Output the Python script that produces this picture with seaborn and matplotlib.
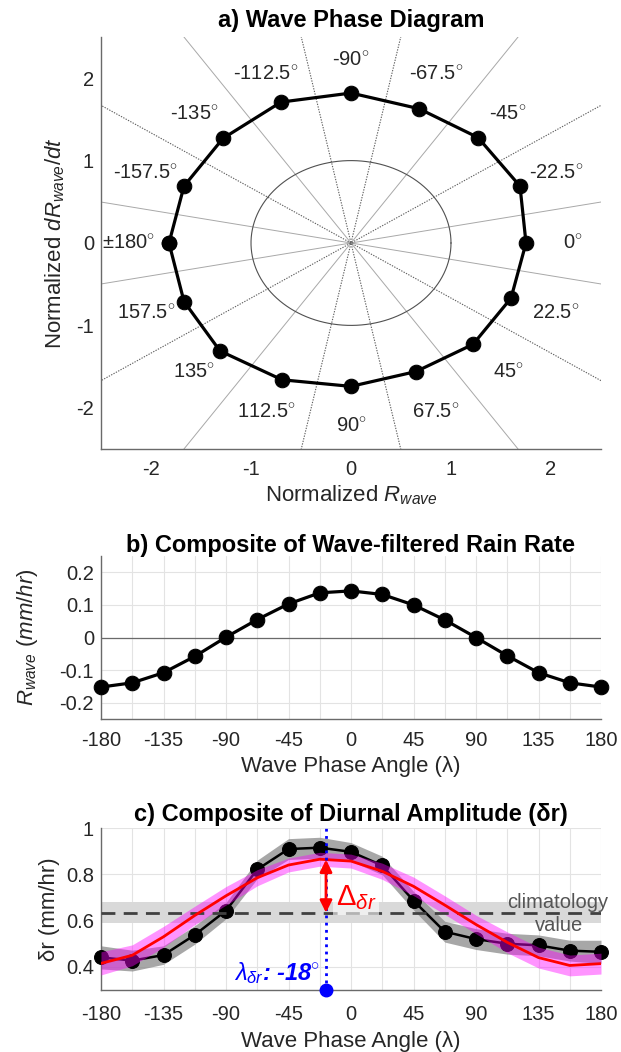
import numpy as np
import pandas as pd
import matplotlib
matplotlib.use("Agg")
import matplotlib.pyplot as plt
import seaborn as sns

# ---------------- data ----------------
phase = [-180, -157.5, -135, -112.5, -90, -67.5, -45, -22.5, 0,
         22.5, 45, 67.5, 90, 112.5, 135, 157.5, 180]

# panel a: normalized R_wave and dR_wave/dt
norm_r = [-1.82, -1.67, -1.28, -0.70, 0.0, 0.68, 1.27, 1.69, 1.75,
          1.60, 1.22, 0.65, 0.0, -0.69, -1.31, -1.67, -1.82]
norm_drdt = [0.0, 0.69, 1.27, 1.71, 1.82, 1.63, 1.28, 0.69, 0.0,
             -0.67, -1.23, -1.56, -1.74, -1.66, -1.31, -0.71, 0.0]

phase_labels = ["0", "-22.5", "-45", "-67.5", "-90", "-112.5", "-135", "-157.5",
                "\u00b1180", "157.5", "135", "112.5", "90", "67.5", "45", "22.5"]
phase_label_angles = [0, -22.5, -45, -67.5, -90, -112.5, -135, -157.5,
                      180, 157.5, 135, 112.5, 90, 67.5, 45, 22.5]
solid_div_angles = [11.25, 56.25, 123.75, 168.75]
dotted_div_angles = [33.75, 78.75, 101.25, 146.25]

# panel b: composite wave-filtered rain rate (mm/hr)
r_wave = [-0.152, -0.139, -0.108, -0.058, 0.001, 0.055, 0.103, 0.137, 0.143,
          0.132, 0.100, 0.054, 0.0, -0.056, -0.108, -0.139, -0.152]

# panel c: diurnal amplitude (mm/hr)
dr_obs = [0.441, 0.427, 0.451, 0.538, 0.643, 0.821, 0.909, 0.915, 0.897,
          0.838, 0.686, 0.552, 0.520, 0.500, 0.493, 0.470, 0.465]
dr_obs_spread = [0.05, 0.045, 0.04, 0.04, 0.035, 0.04, 0.045, 0.045, 0.04,
                 0.04, 0.04, 0.045, 0.045, 0.045, 0.045, 0.045, 0.05]
dr_fit = [0.415, 0.450, 0.530, 0.622, 0.707, 0.785, 0.840, 0.865, 0.857,
          0.813, 0.748, 0.667, 0.583, 0.506, 0.440, 0.406, 0.414]
dr_fit_spread = [0.05, 0.045, 0.045, 0.04, 0.04, 0.035, 0.03, 0.03, 0.03,
                 0.035, 0.04, 0.04, 0.04, 0.045, 0.045, 0.045, 0.045]
clim_value = 0.634
clim_low, clim_high = 0.588, 0.680
lambda_dr = -18

# ---------------- style ----------------
sns.set_theme(style="white")
plt.rcParams["font.family"] = ["Liberation Sans", "DejaVu Sans"]
plt.rcParams["mathtext.fontset"] = "custom"
plt.rcParams["mathtext.rm"] = "Liberation Sans"
plt.rcParams["mathtext.it"] = "Liberation Sans:italic"
plt.rcParams["mathtext.bf"] = "Liberation Sans:bold"
plt.rcParams["axes.unicode_minus"] = False
plt.rcParams["xtick.direction"] = "in"
plt.rcParams["ytick.direction"] = "in"

TXT = "#262626"
SPINE = "#6a6a6a"
GRID = "#e3e3e3"
TICK_FS = 14.5
LAB_FS = 16
TITLE_FS = 17

W, H = 621, 1052
fig = plt.figure(figsize=(W / 100, H / 100), dpi=100)
L, Wd = 101 / W, 500 / W
ax_a = fig.add_axes([L, 1 - 449 / H, Wd, 412 / H])
ax_b = fig.add_axes([L, 1 - 719 / H, Wd, 163 / H])
ax_c = fig.add_axes([L, 1 - 990 / H, Wd, 162 / H])


def style_axes(ax, xpad=8):
    for s in ["top", "right"]:
        ax.spines[s].set_visible(False)
    for s in ["left", "bottom"]:
        ax.spines[s].set_color(SPINE)
        ax.spines[s].set_linewidth(1.0)
    ax.tick_params(axis="both", which="both", direction="in", length=5,
                   width=0.9, color=SPINE, labelsize=TICK_FS, labelcolor=TXT,
                   pad=5)
    ax.tick_params(axis="x", which="both", pad=xpad)


# ---------------- panel a ----------------
ax = ax_a
style_axes(ax)
big = 10
for ang in solid_div_angles:
    t = np.deg2rad(ang)
    ax.plot([-big * np.cos(t), big * np.cos(t)], [-big * np.sin(t), big * np.sin(t)],
            color="#a8a8a8", lw=0.7, ls="-", zorder=1)
for ang in dotted_div_angles:
    t = np.deg2rad(ang)
    ax.plot([-big * np.cos(t), big * np.cos(t)], [-big * np.sin(t), big * np.sin(t)],
            color="#606060", lw=0.8, ls=(0, (1.2, 1.2)), zorder=1)
th = np.linspace(0, 2 * np.pi, 400)
ax.plot(np.cos(th), np.sin(th), color="#505050", lw=0.8, zorder=1)

df_a = pd.DataFrame({"x": norm_r, "y": norm_drdt})
sns.lineplot(data=df_a, x="x", y="y", sort=False, estimator=None, errorbar=None,
             ax=ax, color="black", lw=2.3, marker="o", markersize=10.5,
             mec="black", mfc="black", zorder=3)

lab_r = 2.22
for lab, ang in zip(phase_labels, phase_label_angles):
    t = np.deg2rad(ang)
    ax.text(lab_r * np.cos(t), -lab_r * np.sin(t), lab + r"$^{\circ}$",
            ha="center", va="center", fontsize=14.5, color=TXT, zorder=4)

ax.set_xlim(-2.5, 2.5)
ax.set_ylim(-2.5, 2.5)
ax.set_xticks([-2, -1, 0, 1, 2])
ax.set_yticks([-2, -1, 0, 1, 2])
ax.set_xlabel(r"Normalized $R_{wave}$", fontsize=LAB_FS, color=TXT, labelpad=3)
ax.set_ylabel(r"Normalized $dR_{wave}/dt$", fontsize=LAB_FS, color=TXT)
ax.yaxis.set_label_coords(-0.068, 0.5)
ax.set_title("a) Wave Phase Diagram", fontsize=TITLE_FS, fontweight="bold",
             color="black", pad=7)

# ---------------- panel b ----------------
ax = ax_b
style_axes(ax, xpad=9)
ax.set_xlim(-180, 180)
ax.set_ylim(-0.25, 0.25)
ax.set_xticks(np.arange(-180, 181, 22.5), minor=True)
ax.set_xticks(np.arange(-180, 181, 45))
ax.set_yticks([-0.2, -0.1, 0, 0.1, 0.2])
ax.set_yticklabels(["-0.2", "-0.1", "0", "0.1", "0.2"])
ax.set_xticklabels([str(v) for v in range(-180, 181, 45)])
ax.grid(True, which="both", color=GRID, lw=0.8, zorder=0)
ax.set_axisbelow(True)
ax.axhline(0, color="#6a6a6a", lw=0.9, zorder=1)
df_b = pd.DataFrame({"phase": phase, "r": r_wave})
sns.lineplot(data=df_b, x="phase", y="r", estimator=None, errorbar=None, ax=ax,
             color="black", lw=2.3, marker="o", markersize=10.5, mec="black",
             mfc="black", zorder=3, clip_on=False)
ax.set_xlabel("Wave Phase Angle (\u03bb)", fontsize=LAB_FS, color=TXT, labelpad=4)
ax.set_ylabel(r"$R_{wave}$ $\mathit{(mm/hr)}$", fontsize=LAB_FS, color=TXT)
ax.yaxis.set_label_coords(-0.122, 0.5)
ax.set_title("b) Composite of Wave-filtered Rain Rate", fontsize=TITLE_FS,
             fontweight="bold", color="black", pad=3)

# ---------------- panel c ----------------
ax = ax_c
style_axes(ax, xpad=11)
ax.set_xlim(-180, 180)
ax.set_ylim(0.3, 1.0)
ax.set_xticks(np.arange(-180, 181, 22.5), minor=True)
ax.set_xticks(np.arange(-180, 181, 45))
ax.set_xticklabels([str(v) for v in range(-180, 181, 45)])
ax.set_yticks([0.4, 0.6, 0.8, 1.0])
ax.set_yticklabels(["0.4", "0.6", "0.8", "1"])
ax.grid(True, which="both", color=GRID, lw=0.8, zorder=0)
ax.set_axisbelow(True)

ax.axhspan(clim_low, clim_high, color="#d9d9d9", lw=0, zorder=1)

obs = np.array(dr_obs)
obs_s = np.array(dr_obs_spread)
fit = np.array(dr_fit)
fit_s = np.array(dr_fit_spread)
ax.fill_between(phase, obs - obs_s, obs + obs_s, color="#8a8a8a", alpha=0.75,
                lw=0, zorder=2)
df_c = pd.DataFrame({"phase": phase, "obs": dr_obs, "fit": dr_fit})
sns.lineplot(data=df_c, x="phase", y="obs", estimator=None, errorbar=None, ax=ax,
             color="black", lw=1.8, marker="o", markersize=10, mec="black",
             mfc="black", zorder=3, clip_on=False)
ax.fill_between(phase, fit - fit_s, fit + fit_s, color="#ff00ff", alpha=0.42,
                lw=0, zorder=4)
ax.axhline(clim_value, color="#404040", lw=2.0, ls=(0, (5, 3)), zorder=5)
sns.lineplot(data=df_c, x="phase", y="fit", estimator=None, errorbar=None, ax=ax,
             color="#ff0000", lw=2.0, zorder=6)

fit_peak = float(np.interp(lambda_dr, phase, dr_fit))
ax.plot([lambda_dr, lambda_dr], [0.3, 1.0], color="#0000ff", lw=2.0,
        ls=(0, (1, 1.6)), zorder=7)
ax.plot([lambda_dr], [0.3], "o", color="#0000ff", markersize=9, clip_on=False,
        zorder=8)
ax.annotate("", xy=(lambda_dr, clim_value), xytext=(lambda_dr, fit_peak),
            arrowprops=dict(arrowstyle="<|-|>", color="#ff0000", lw=2.0,
                            mutation_scale=18, shrinkA=0, shrinkB=0), zorder=8)
ax.text(lambda_dr + 7, 0.70, r"$\Delta_{\delta r}$", color="#ff0000", fontsize=21,
        ha="left", va="center", zorder=8,
        bbox=dict(boxstyle="square,pad=0.1", fc="white", ec="none", alpha=0.6))
ax.text(lambda_dr - 4, 0.375, r"$\lambda_{\delta r}$: -18$^{\circ}$", color="#0000ff",
        fontsize=17, fontweight="bold", fontstyle="italic", ha="right",
        va="center", zorder=8)
ax.text(185, 0.676, "climatology", color="#555555", fontsize=14.5, ha="right",
        va="center", zorder=8)
ax.text(150, 0.58, "value", color="#555555", fontsize=14.5, ha="center",
        va="center", zorder=8)

ax.set_xlabel("Wave Phase Angle (\u03bb)", fontsize=LAB_FS, color=TXT, labelpad=5)
ax.set_ylabel("\u03b4r (mm/hr)", fontsize=LAB_FS, color=TXT)
ax.yaxis.set_label_coords(-0.082, 0.5)
ax.set_title("c) Composite of Diurnal Amplitude (\u03b4r)", fontsize=TITLE_FS,
             fontweight="bold", color="black", pad=5)

fig.savefig("out.png", dpi=100)
